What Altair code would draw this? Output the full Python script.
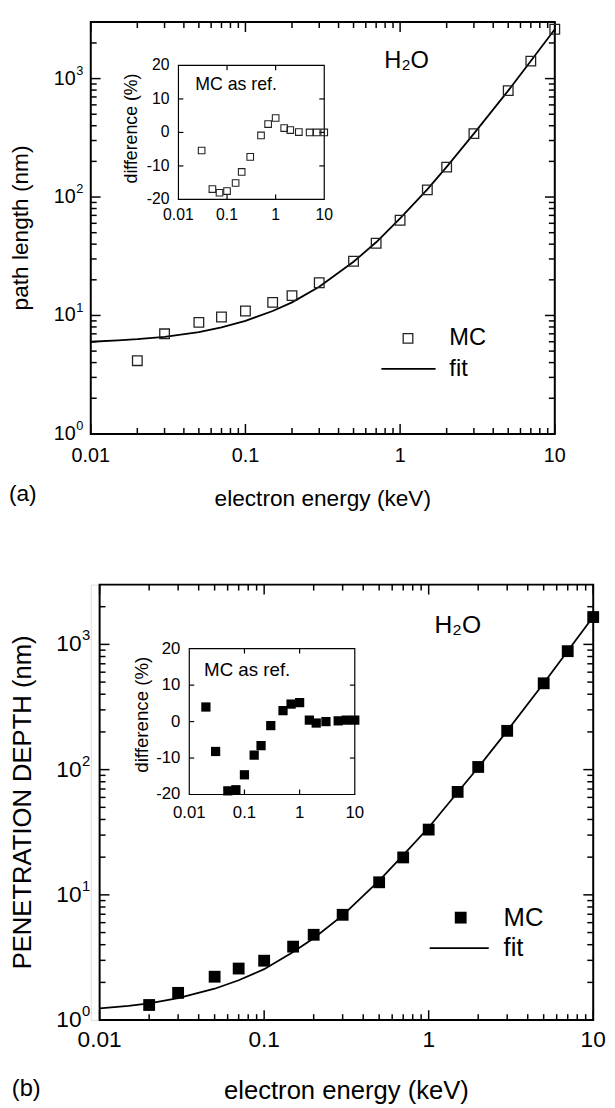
import altair as alt
import pandas as pd

# ---------------- data ----------------
# Panel (a): path length
mc_energy_a = [0.02, 0.03, 0.05, 0.07, 0.1, 0.15, 0.2, 0.3, 0.5, 0.7, 1, 1.5, 2, 3, 5, 7, 10]
mc_path = [4.15, 7.0, 8.75, 9.7, 10.9, 12.9, 14.7, 18.9, 28.7, 40.7, 63.7, 115, 179, 343, 792, 1406, 2610]
fit_energy = [0.01, 0.015, 0.02, 0.03, 0.05, 0.07, 0.1, 0.15, 0.2, 0.3, 0.5, 0.7, 1, 1.5, 2, 3, 5, 7, 10]
fit_path = [6.0, 6.15, 6.3, 6.6, 7.25, 7.95, 9.0, 10.9, 12.9, 17.5, 28.4, 41.5, 66, 116, 180, 343, 792, 1406, 2610]
inset_energy_a = [0.03, 0.05, 0.07, 0.1, 0.15, 0.2, 0.3, 0.5, 0.7, 1, 1.5, 2, 3, 5, 7, 10]
inset_diff_a = [-5.4, -16.9, -18.0, -17.5, -15.1, -11.8, -7.3, -0.9, 2.5, 4.3, 1.3, 0.7, 0.1, 0.0, 0.0, 0.0]

# Panel (b): penetration depth
mc_energy_b = [0.02, 0.03, 0.05, 0.07, 0.1, 0.15, 0.2, 0.3, 0.5, 0.7, 1, 1.5, 2, 3, 5, 7, 10]
mc_depth = [1.32, 1.65, 2.22, 2.58, 2.98, 3.86, 4.8, 6.93, 12.6, 19.9, 33.2, 66.4, 105, 204, 489, 883, 1653]
fit_depth = [1.24, 1.30, 1.36, 1.5, 1.78, 2.08, 2.55, 3.5, 4.5, 6.85, 13.0, 20.8, 34.5, 66, 104, 204, 490, 885, 1660]
inset_energy_b = [0.02, 0.03, 0.05, 0.07, 0.1, 0.15, 0.2, 0.3, 0.5, 0.7, 1, 1.5, 2, 3, 5, 7, 10]
inset_diff_b = [4.0, -8.2, -19.0, -18.7, -14.6, -9.2, -6.6, -1.1, 3.0, 4.8, 5.2, 0.4, -0.4, 0.0, 0.2, 0.4, 0.4]

# axes: domains, ticks and tick labels
energy_domain = [0.01, 10]
length_domain = [1, 3000]
diff_domain = [-20, 20]
x_major = [0.01, 0.1, 1, 10]
x_major_labels = ["0.01", "0.1", "1", "10"]
x_minor = [0.02, 0.03, 0.04, 0.05, 0.06, 0.07, 0.08, 0.09,
           0.2, 0.3, 0.4, 0.5, 0.6, 0.7, 0.8, 0.9,
           2, 3, 4, 5, 6, 7, 8, 9]
y_major = [1, 10, 100, 1000]
y_major_base = ["10", "10", "10", "10"]
y_major_exp = ["0", "1", "2", "3"]
y_minor = [2, 3, 4, 5, 6, 7, 8, 9, 20, 30, 40, 50, 60, 70, 80, 90,
           200, 300, 400, 500, 600, 700, 800, 900, 2000]
inset_x_labels = [0.01, 0.1, 1, 10]
inset_x_texts = ["0.01", "0.1", "1", "10"]
inset_y_labels = [-20, -10, 0, 10, 20]
inset_y_texts = ["-20", "-10", "0", "10", "20"]
inset_x_ticks = [0.1, 1]
inset_y_ticks = [-10, 0, 10]

FONT = "Liberation Sans"


def frame(xs, ys, xdom, ydom, sw):
    df = pd.DataFrame({"x0": [xdom[0]], "x1": [xdom[1]], "y0": [ydom[0]], "y1": [ydom[1]]})
    return alt.Chart(df).mark_rect(fillOpacity=0, stroke="black", strokeWidth=sw).encode(
        x=alt.X("x0:Q", scale=xs, axis=None), x2="x1:Q",
        y=alt.Y("y0:Q", scale=ys, axis=None), y2="y1:Q")


def ticks(values, side, length, xs, ys, xdom, ydom, sw):
    if side in ("bottom", "top"):
        edge = ydom[0] if side == "bottom" else ydom[1]
        off = -length if side == "bottom" else length
        df = pd.DataFrame({"v": values, "e": [edge] * len(values)})
        return alt.Chart(df).mark_rule(color="black", strokeWidth=sw, y2Offset=off).encode(
            x=alt.X("v:Q", scale=xs, axis=None),
            y=alt.Y("e:Q", scale=ys, axis=None), y2="e:Q")
    edge = xdom[0] if side == "left" else xdom[1]
    off = length if side == "left" else -length
    df = pd.DataFrame({"v": values, "e": [edge] * len(values)})
    return alt.Chart(df).mark_rule(color="black", strokeWidth=sw, x2Offset=off).encode(
        y=alt.Y("v:Q", scale=ys, axis=None),
        x=alt.X("e:Q", scale=xs, axis=None), x2="e:Q")


def xlabels(values, texts, xs, ys, edge, dy, fs):
    df = pd.DataFrame({"v": values, "e": [edge] * len(values), "t": texts})
    return alt.Chart(df).mark_text(font=FONT, fontSize=fs, color="black", align="center",
                                   baseline="middle", dy=dy).encode(
        x=alt.X("v:Q", scale=xs, axis=None), y=alt.Y("e:Q", scale=ys, axis=None), text="t:N")


def ylabels(values, texts, xs, ys, edge, dx, fs, align="right", dy=0):
    df = pd.DataFrame({"v": values, "e": [edge] * len(values), "t": texts})
    return alt.Chart(df).mark_text(font=FONT, fontSize=fs, color="black", align=align,
                                   baseline="middle", dx=dx, dy=dy).encode(
        y=alt.Y("v:Q", scale=ys, axis=None), x=alt.X("e:Q", scale=xs, axis=None), text="t:N")


def label(text, x, y, size, align="left", angle=0):
    return alt.Chart(pd.DataFrame({"a": [0]})).mark_text(
        text=text, font=FONT, fontSize=size, color="black", align=align,
        baseline="middle", angle=angle).encode(x=alt.value(x), y=alt.value(y))


def panel(W, H, xr0, mc_e, mc_v, fit_v, in_e, in_v, filled, msize,
          ytitle, lab, cfg):
    xs = alt.Scale(type="log", domain=energy_domain, range=[xr0, W], nice=False)
    ys = alt.Scale(type="log", domain=length_domain, nice=False)
    E, L = energy_domain, length_domain
    layers = [frame(xs, ys, E, L, 2)]
    for side in ("bottom", "top"):
        layers.append(ticks(x_major, side, 10, xs, ys, E, L, 1.5))
        layers.append(ticks(x_minor, side, 6, xs, ys, E, L, 1.5))
    for side in ("left", "right"):
        layers.append(ticks(y_major, side, 10, xs, ys, E, L, 1.5))
        layers.append(ticks(y_minor, side, 6, xs, ys, E, L, 1.5))
    # tick labels
    layers.append(xlabels(x_major, x_major_labels, xs, ys, L[0], cfg["xlp"], cfg["lfs"]))
    sw = cfg["efs"] * 0.556
    layers.append(ylabels(y_major, y_major_base, xs, ys, E[0], -(cfg["ylp"] + sw), cfg["lfs"]))
    layers.append(ylabels(y_major, y_major_exp, xs, ys, E[0], -(cfg["ylp"] + sw) + 0.5,
                          cfg["efs"], align="left", dy=-cfg["edy"]))
    # axis titles
    layers.append(label("electron energy (keV)", (xr0 + W) / 2, H + cfg["xty"], cfg["tfs"],
                        align="center"))
    layers.append(label(ytitle, xr0 + cfg["ytx"], H / 2, cfg["ytfs"], align="center", angle=270))
    # fit and MC
    fit_df = pd.DataFrame({"E": fit_energy, "v": fit_v})
    layers.append(alt.Chart(fit_df).mark_line(color="black", strokeWidth=1.8).encode(
        x=alt.X("E:Q", scale=xs, axis=None), y=alt.Y("v:Q", scale=ys, axis=None)))
    mc_df = pd.DataFrame({"E": mc_e, "v": mc_v})
    if filled:
        pm = alt.Chart(mc_df).mark_point(shape="square", filled=True, size=msize,
                                         color="black", opacity=1)
    else:
        pm = alt.Chart(mc_df).mark_point(shape="square", filled=False, size=msize,
                                         color="#222", strokeWidth=1.3, opacity=1)
    layers.append(pm.encode(x=alt.X("E:Q", scale=xs, axis=None),
                            y=alt.Y("v:Q", scale=ys, axis=None)))
    # annotations / legend
    layers.append(label("H\u2082O", cfg["hx"], cfg["hy"], cfg["hfs"]))
    leg_pt = pd.DataFrame({"a": [0]})
    if filled:
        lp = alt.Chart(leg_pt).mark_point(shape="square", filled=True, size=msize,
                                          color="black", opacity=1)
    else:
        lp = alt.Chart(leg_pt).mark_point(shape="square", filled=False, size=msize,
                                          color="#222", strokeWidth=1.3, opacity=1)
    layers.append(lp.encode(x=alt.value(cfg["lsx"]), y=alt.value(cfg["lsy"])))
    layers.append(label("MC", cfg["ltx"], cfg["lsy"], cfg["legfs"]))
    layers.append(alt.Chart(leg_pt).mark_rule(color="black", strokeWidth=1.8).encode(
        x=alt.value(cfg["llx0"]), x2=alt.value(cfg["llx1"]), y=alt.value(cfg["lly"])))
    layers.append(label("fit", cfg["ltx"], cfg["lly"], cfg["legfs"]))
    layers.append(label(lab, cfg["labx"], cfg["laby"], cfg["labfs"], align="center"))
    main = alt.layer(*layers)

    # ---- inset ----
    ix0, ix1, iy0, iy1 = cfg["inset"]
    ixs = alt.Scale(type="log", domain=energy_domain, range=[ix0, ix1], nice=False)
    iys = alt.Scale(type="linear", domain=diff_domain, range=[iy1, iy0], nice=False, zero=False)
    D = diff_domain
    ilayers = [frame(ixs, iys, E, D, 1.2)]
    for side in ("bottom", "top"):
        ilayers.append(ticks(inset_x_ticks, side, 5, ixs, iys, E, D, 1.2))
    for side in ("left", "right"):
        ilayers.append(ticks(inset_y_ticks, side, 5, ixs, iys, E, D, 1.2))
    ilayers.append(xlabels(inset_x_labels, inset_x_texts, ixs, iys, D[0], cfg["ixlp"], cfg["ifs"]))
    ilayers.append(ylabels(inset_y_labels, inset_y_texts, ixs, iys, E[0], -9, cfg["ifs"]))
    ilayers.append(label("difference (%)", ix0 + cfg["itx"], cfg["ity"], cfg["itfs"],
                         align="center", angle=270))
    in_df = pd.DataFrame({"E": in_e, "d": in_v})
    if filled:
        ip = alt.Chart(in_df).mark_point(shape="square", filled=True, size=cfg["ims"],
                                         color="black", opacity=1)
    else:
        ip = alt.Chart(in_df).mark_point(shape="square", filled=False, size=cfg["ims"],
                                         color="#222", strokeWidth=1.1, opacity=1)
    ilayers.append(ip.encode(x=alt.X("E:Q", scale=ixs, axis=None),
                             y=alt.Y("d:Q", scale=iys, axis=None)))
    ilayers.append(label("MC as ref.", cfg["mcx"], cfg["mcy"], cfg["itfs"]))
    inset = alt.layer(*ilayers)

    return alt.layer(main, inset).resolve_scale(
        x="independent", y="independent").properties(width=W, height=H)


cfg_a = dict(xlp=23, lfs=20, efs=13, edy=8, tfs=23, xty=66, ylp=8, ytfs=23, ytx=-71,
             hx=298, hy=40, hfs=24, lsx=322, lsy=321, ltx=364, legfs=24,
             llx0=295, llx1=350, lly=352, labx=-69, laby=479, labfs=23,
             inset=(89, 237, 44, 180), ixlp=16, ifs=16, itfs=18, itx=-47, ity=108,
             ims=45, mcx=106, mcy=64)
cfg_b = dict(xlp=20, lfs=23, efs=15, edy=9, tfs=26, xty=72, ylp=10, ytfs=26, ytx=-77.5,
             hx=349, hy=41, hfs=25, lsx=375.5, lsy=338, ltx=419, legfs=26,
             llx0=344, llx1=404, lly=369, labx=-65.5, laby=512, labfs=24,
             inset=(100, 268, 65, 213), ixlp=19, ifs=17, itfs=19, itx=-48, ity=132,
             ims=88, mcx=115, mcy=87)

panel_a = panel(471, 418, 0, mc_energy_a, mc_path, fit_path, inset_energy_a, inset_diff_a,
                False, 95, "path length (nm)", "(a)", cfg_a)
panel_b = panel(510, 442, 9, mc_energy_b, mc_depth, fit_depth, inset_energy_b, inset_diff_b,
                True, 144, "PENETRATION DEPTH (nm)", "(b)", cfg_b)

chart = alt.vconcat(panel_a, panel_b, spacing=72).properties(
    padding={"left": 0, "top": 4, "right": 0, "bottom": 0}
).configure_view(stroke="transparent").configure(background="white")

chart.save("out.html", embed_options={"renderer": "svg", "actions": False})
